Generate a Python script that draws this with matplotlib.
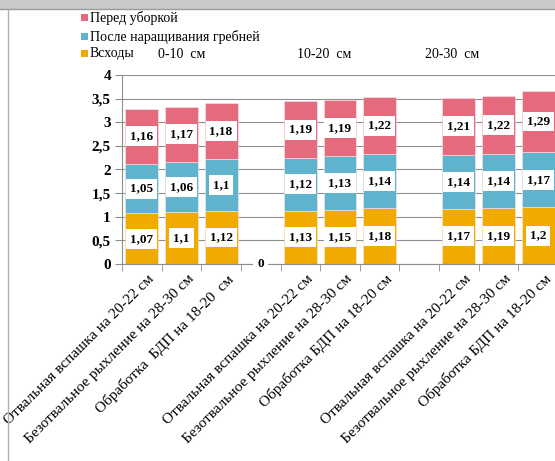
import numpy as np
import matplotlib
matplotlib.use('Agg')
import matplotlib.pyplot as plt
import matplotlib.patches as patches
import matplotlib.transforms as mtransforms
from matplotlib.lines import Line2D

plt.rcParams['font.family'] = ['Liberation Serif', 'DejaVu Serif']

# данные
categories = [
    'Отвальная вспашка на 20-22 см',
    'Безотвальное рыхление на 28-30 см',
    'Обработка  БДП на 18-20  см',
    '',
    'Отвальная вспашка на 20-22 см',
    'Безотвальное рыхление на 28-30 см',
    'Обработка БДП на 18-20 см',
    '',
    'Отвальная вспашка на 20-22 см',
    'Безотвальное рыхление на 28-30 см',
    'Обработка БДП на 18-20 см',
]
shoots = [1.07, 1.1, 1.12, 0, 1.13, 1.15, 1.18, np.nan, 1.17, 1.19, 1.2]
after_ridging = [1.05, 1.06, 1.1, np.nan, 1.12, 1.13, 1.14, np.nan, 1.14, 1.14, 1.17]
before_harvest = [1.16, 1.17, 1.18, np.nan, 1.19, 1.19, 1.22, np.nan, 1.21, 1.22, 1.29]
series_names = ['Всходы', 'После наращивания гребней', 'Перед уборкой']
series_colors = ['#f0aa00', '#5fb3cc', '#e66a7e']
group_labels = ['0-10  см', '10-20  см', '20-30  см']
y_ticks = [0, 0.5, 1, 1.5, 2, 2.5, 3, 3.5, 4]

W, H = 555, 461
fig = plt.figure(figsize=(W / 100, H / 100), dpi=100)


def px(x, y):
    return x / W, 1 - y / H


# рамка скриншота
fig.add_artist(patches.Rectangle(px(0, 9), 1, 9 / H, transform=fig.transFigure,
                                 facecolor='#cacaca', edgecolor='none'))
fig.add_artist(Line2D([0, 1], [1 - 9.5 / H] * 2, transform=fig.transFigure,
                      color='#9a9a9a', lw=1))
fig.add_artist(Line2D([7.5 / W] * 2, [0, 1 - 10 / H], transform=fig.transFigure,
                      color='#b0b0b0', lw=1))

ax = fig.add_axes([122 / W, 1 - 264 / H, (558 - 122) / W, (264 - 75) / H])
x = np.arange(len(categories))
bottom = np.zeros(len(categories))
for name, vals, color in zip(series_names, [shoots, after_ridging, before_harvest], series_colors):
    vals = np.array(vals, dtype=float)
    ax.bar(x, np.nan_to_num(vals), bottom=bottom, width=0.83, color=color,
           edgecolor='#fbe9ec', linewidth=0.4, zorder=2)
    for xi, v, b in zip(x, vals, bottom):
        if np.isnan(v):
            continue
        txt = f'{v:g}'.replace('.', ',')
        ax.text(xi, b + v / 2, txt, ha='center', va='center', fontsize=9.5,
                fontweight='bold', zorder=4,
                bbox=dict(boxstyle='square', facecolor='white', edgecolor='none', pad=0.3))
    bottom += np.nan_to_num(vals)

ax.set_xlim(-0.5, len(categories) - 0.5)
ax.set_ylim(0, 4)
ax.set_yticks(y_ticks)
ax.set_yticklabels([f'{t:g}'.replace('.', ',') for t in y_ticks],
                   fontsize=11, fontweight='bold')
ax.yaxis.grid(True, color='#8e8e8e', lw=0.8, zorder=0)
ax.set_axisbelow(True)
for s in ['top', 'right']:
    ax.spines[s].set_visible(False)
for s in ['left', 'bottom']:
    ax.spines[s].set_color('#8e8e8e')
ax.tick_params(axis='y', length=5, color='#8e8e8e', pad=3)

ax.set_xticks(x)
ax.set_xticklabels(categories, rotation=45, ha='right', rotation_mode='anchor',
                   fontsize=11)
ax.set_xticks(np.arange(-0.5, len(categories), 1), minor=True)
ax.tick_params(axis='x', which='major', length=0, pad=6)
ax.tick_params(axis='x', which='minor', length=5, color='#8e8e8e')
# сдвиг подписей вправо
shift = mtransforms.ScaledTranslation(6 / 100, 0, fig.dpi_scale_trans)
for lbl in ax.get_xticklabels():
    lbl.set_transform(lbl.get_transform() + shift)

# легенда
legend_y = [18, 37, 54]
for (name, color), ly in zip(list(zip(series_names, series_colors))[::-1], legend_y):
    fig.add_artist(patches.Rectangle(px(81, ly + 3.5), 7 / W, 7 / H, transform=fig.transFigure,
                                     facecolor=color, edgecolor='none'))
    fig.text(*px(90, ly), name, fontsize=10, va='center', ha='left')

# подписи групп
for label, gx in zip(group_labels, [158, 297, 425]):
    fig.text(*px(gx, 54), label, fontsize=10, va='center', ha='left')

fig.savefig('out.png', dpi=100)
